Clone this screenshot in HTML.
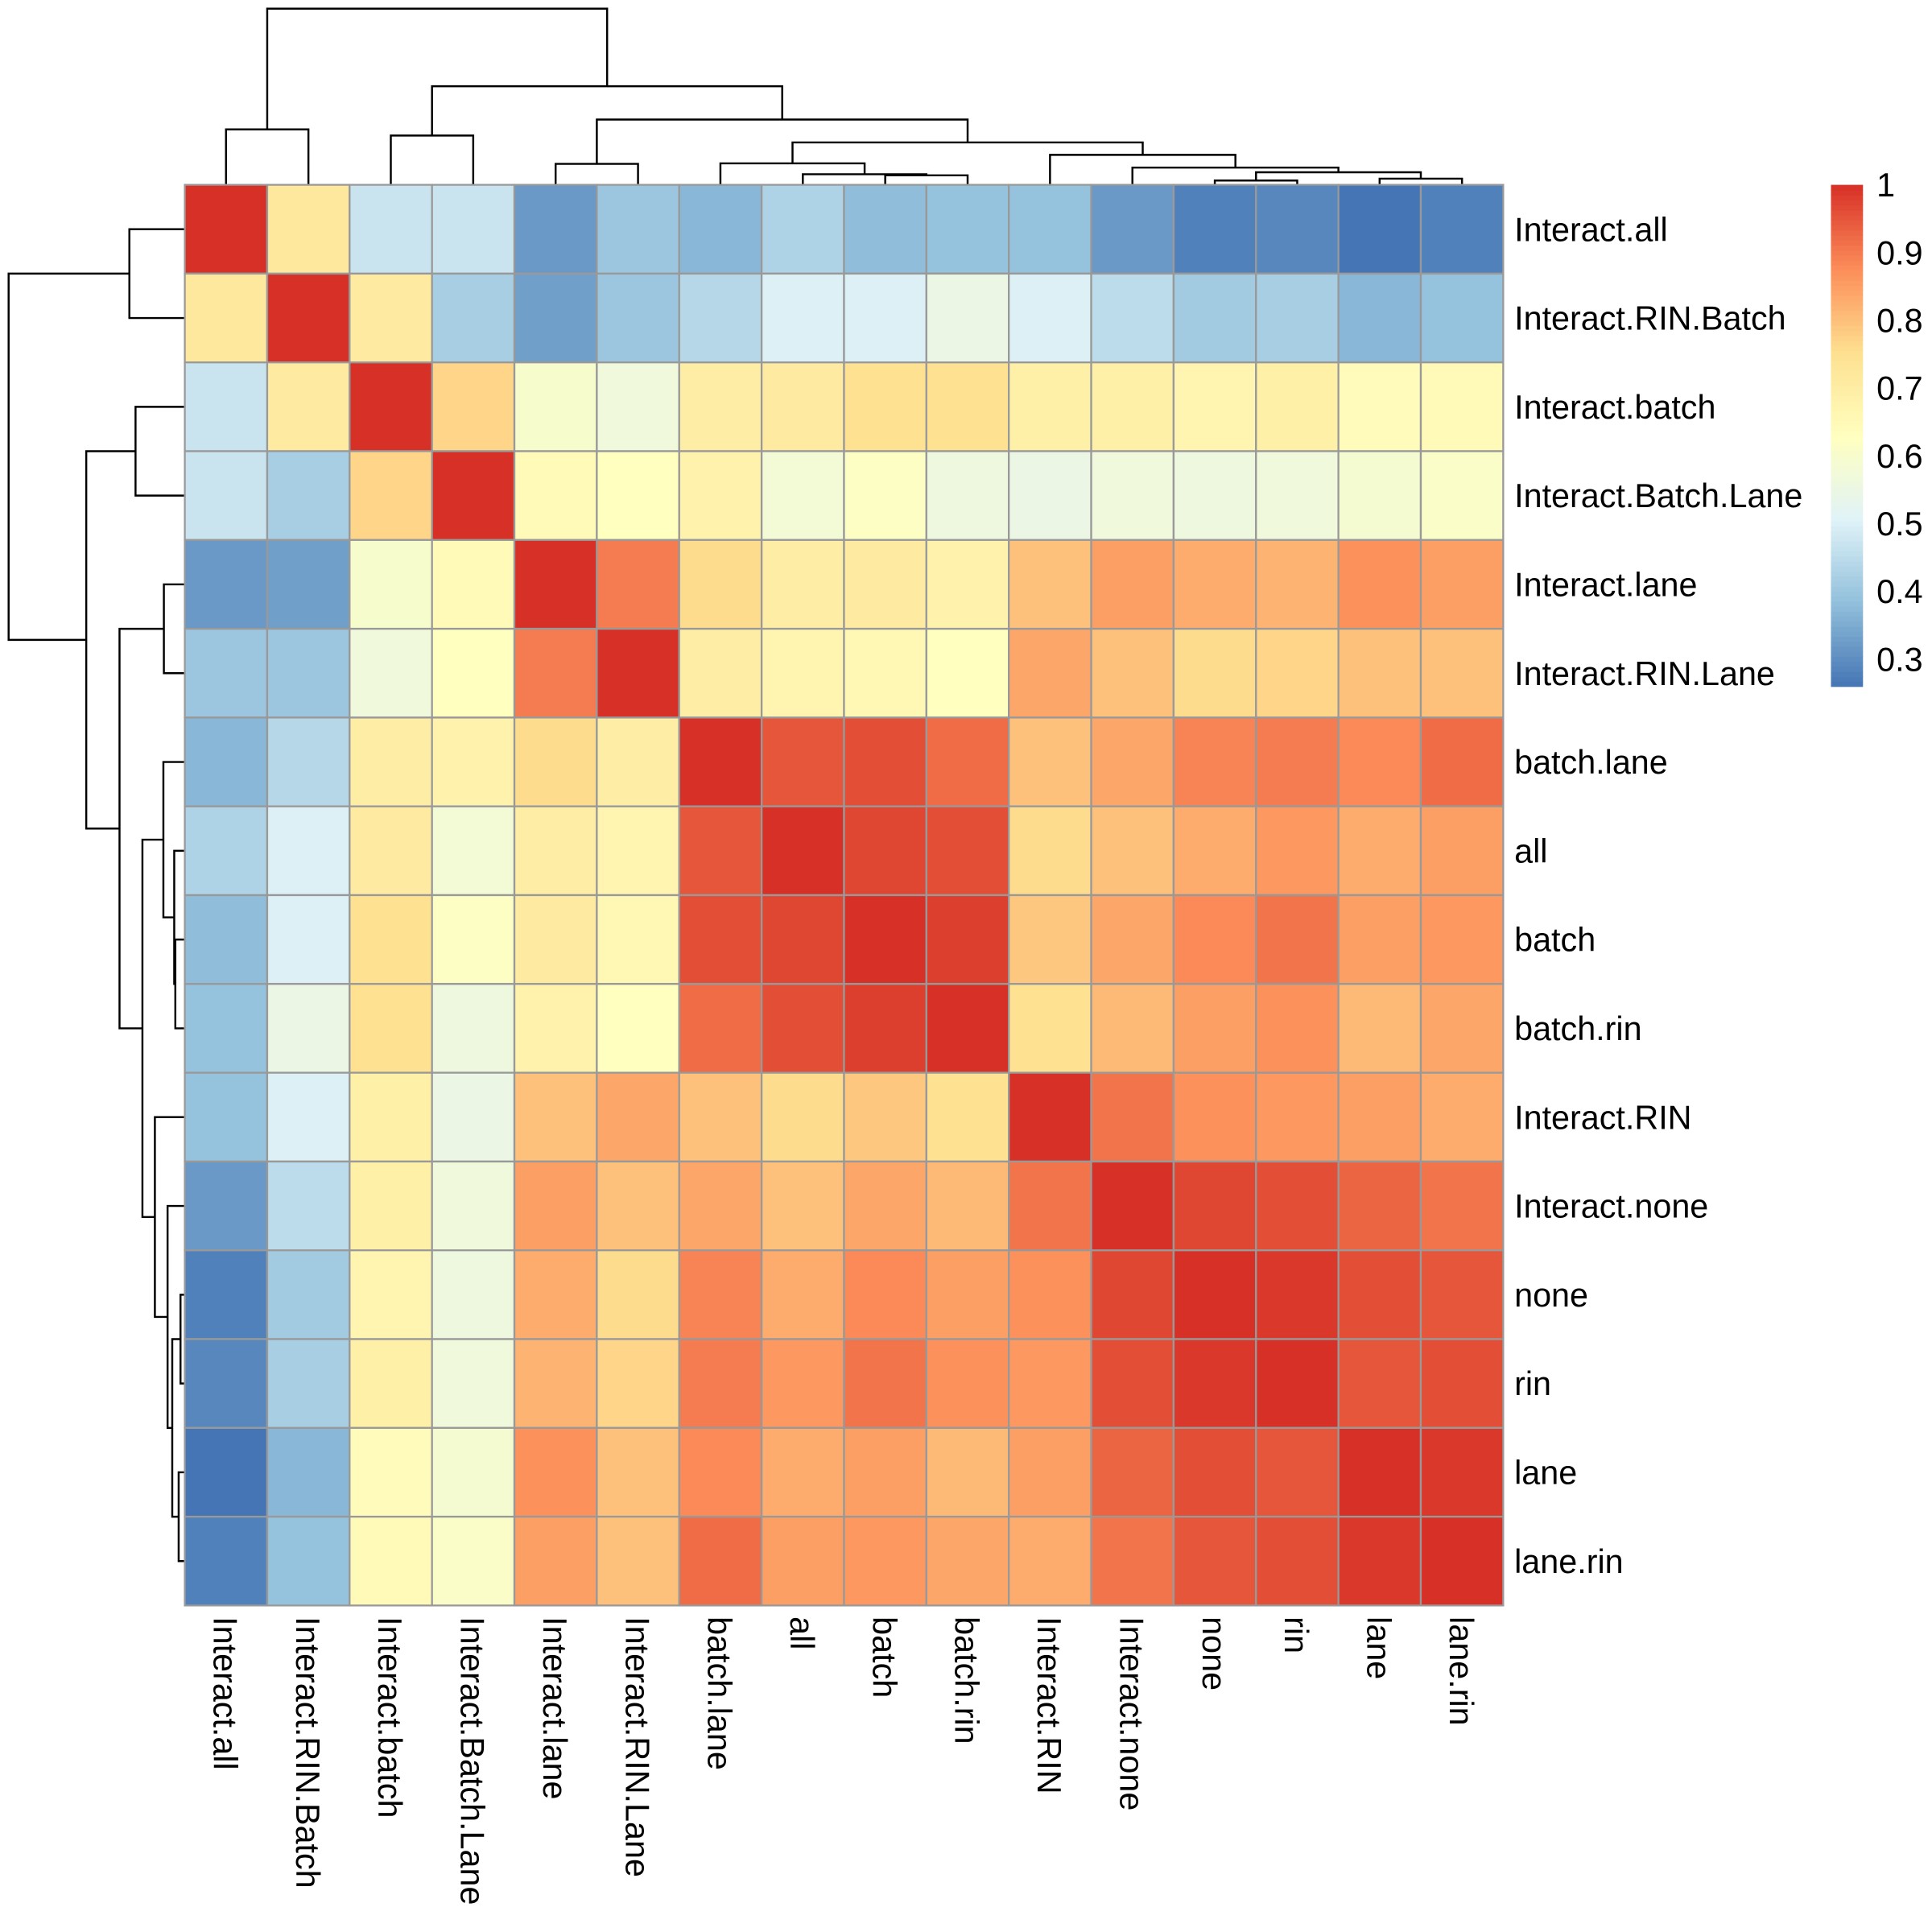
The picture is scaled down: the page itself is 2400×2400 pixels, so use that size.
<!DOCTYPE html>
<html><head><meta charset="utf-8"><style>
html,body{margin:0;padding:0;background:#fff;}
svg{display:block;}
text{font-family:"Liberation Sans",Arial,sans-serif;fill:#000;}
</style></head><body>
<svg id="chart" width="2400" height="2400" viewBox="0 0 1568 1568" xmlns="http://www.w3.org/2000/svg">
<g id="dendro-top"></g>
<g id="dendro-left"></g>
<g id="cells"></g>
<g id="rowlabels"></g>
<g id="collabels"></g>
<g id="legend"></g>
</svg>
<script>
const labels=["Interact.all","Interact.RIN.Batch","Interact.batch","Interact.Batch.Lane","Interact.lane","Interact.RIN.Lane","batch.lane","all","batch","batch.rin","Interact.RIN","Interact.none","none","rin","lane","lane.rin"];
const values=[
[1,0.72,0.47,0.47,0.32,0.4,0.37,0.43,0.38,0.39,0.39,0.32,0.28,0.29,0.26,0.28],
[0.72,1,0.71,0.42,0.33,0.4,0.44,0.5,0.5,0.55,0.5,0.45,0.41,0.42,0.37,0.39],
[0.47,0.71,1,0.77,0.6,0.57,0.7,0.71,0.75,0.75,0.69,0.69,0.67,0.69,0.64,0.65],
[0.47,0.42,0.77,1,0.65,0.63,0.68,0.58,0.62,0.56,0.55,0.57,0.56,0.57,0.59,0.61],
[0.32,0.33,0.6,0.65,1,0.9,0.76,0.7,0.71,0.68,0.8,0.85,0.83,0.82,0.87,0.85],
[0.4,0.4,0.57,0.63,0.9,1,0.7,0.67,0.66,0.63,0.84,0.8,0.76,0.77,0.8,0.8],
[0.37,0.44,0.7,0.68,0.76,0.7,1,0.95,0.96,0.92,0.8,0.84,0.89,0.9,0.88,0.92],
[0.43,0.5,0.71,0.58,0.7,0.67,0.95,1,0.97,0.96,0.76,0.8,0.83,0.86,0.83,0.85],
[0.38,0.5,0.75,0.62,0.71,0.66,0.96,0.97,1,0.98,0.79,0.84,0.88,0.91,0.85,0.86],
[0.39,0.55,0.75,0.56,0.68,0.63,0.92,0.96,0.98,1,0.75,0.81,0.85,0.87,0.81,0.84],
[0.39,0.5,0.69,0.55,0.8,0.84,0.8,0.76,0.79,0.75,1,0.91,0.87,0.86,0.85,0.83],
[0.32,0.45,0.69,0.57,0.85,0.8,0.84,0.8,0.84,0.81,0.91,1,0.97,0.96,0.93,0.91],
[0.28,0.41,0.67,0.56,0.83,0.76,0.89,0.83,0.88,0.85,0.87,0.97,1,0.99,0.96,0.95],
[0.29,0.42,0.69,0.57,0.82,0.77,0.9,0.86,0.91,0.87,0.86,0.96,0.99,1,0.95,0.96],
[0.26,0.37,0.64,0.59,0.87,0.8,0.88,0.83,0.85,0.81,0.85,0.93,0.96,0.95,1,0.99],
[0.28,0.39,0.65,0.61,0.85,0.8,0.92,0.85,0.86,0.84,0.83,0.91,0.95,0.96,0.99,1]];
const mergePairs=[[-13,-14],[-15,-16],[1,2],[-12,3],[-11,4],[-9,-10],[-8,6],[-7,7],[8,5],[-5,-6],[10,9],[-3,-4],[12,11],[-1,-2],[14,13]];
const mergeHeights=[3.5,5,10.2,14,24.3,7.7,8.6,17.4,34.4,17,53,40,80,45,143];
const legendTicks=[0.3,0.4,0.5,0.6,0.7,0.8,0.9,1];

const NS="http://www.w3.org/2000/svg";
function mk(tag,attrs,parent){const e=document.createElementNS(NS,tag);for(const k in attrs)e.setAttribute(k,attrs[k]);parent.appendChild(e);return e;}
const X0=150,Y0=150,X1=1220,Y1=1303,n=labels.length;
const cw=(X1-X0)/n, ch=(Y1-Y0)/n;
const colX=i=>X0+cw*i, rowY=i=>Y0+ch*i;
const pal=["#4575B4","#91BFDB","#E0F3F8","#FFFFBF","#FEE090","#FC8D59","#D73027"];
let vmin=Infinity,vmax=-Infinity;values.forEach(r=>r.forEach(v=>{vmin=Math.min(vmin,v);vmax=Math.max(vmax,v);}));
function hex(c){return [1,3,5].map(i=>parseInt(c.substr(i,2),16));}
function color(v){let t=(v-vmin)/(vmax-vmin);t=Math.max(0,Math.min(1,t));const p=t*(pal.length-1);const i=Math.min(pal.length-2,Math.floor(p));const f=p-i;const a=hex(pal[i]),b=hex(pal[i+1]);return "rgb("+a.map((x,k)=>Math.round(x+(b[k]-x)*f)).join(",")+")";}

const cells=document.getElementById('cells');
for(let r=0;r<n;r++)for(let c=0;c<n;c++){
  const e=mk('rect',{x:colX(c),y:rowY(r),width:cw,height:ch,fill:color(values[r][c]),stroke:"#999999","stroke-width":1.5},cells);
  
  
}
const FS=27;
const rl=document.getElementById('rowlabels');
labels.forEach((l,i)=>{const t=mk('text',{x:X1+9,y:rowY(i)+ch/2+9.5,'font-size':FS},rl);t.textContent=l;
  
  });
const cl=document.getElementById('collabels');
labels.forEach((l,i)=>{const cx=colX(i)+cw/2-10,cy=Y1+9;const t=mk('text',{x:cx,y:cy,'font-size':FS,transform:`rotate(90 ${cx} ${cy})`},cl);t.textContent=l;
  
  });

const maxH=Math.max(...mergeHeights);
const hs=h=>h*(143/maxH);
function dendro(g,orient){
  const pos=[],hgt=[];
  const leafPos=k=>(orient==='top'?colX(k)+cw/2:rowY(k)+ch/2);
  const get=id=>id<0?[leafPos(-id-1),0]:[pos[id-1],hgt[id-1]];
  mergePairs.forEach((m,j)=>{
    const [pa,ha]=get(m[0]),[pb,hb]=get(m[1]);const h=mergeHeights[j];
    pos.push((pa+pb)/2);hgt.push(h);
    let d;
    if(orient==='top'){const yb=Y0,ya=yb-hs(ha),yc=yb-hs(hb),yh=yb-hs(h);d=`M${pa},${ya}V${yh}H${pb}V${yc}`;}
    else{const xb=X0,xa=xb-hs(ha),xc=xb-hs(hb),xh=xb-hs(h);d=`M${xa},${pa}H${xh}V${pb}H${xc}`;}
    const p=mk('path',{d:d,fill:'none',stroke:'#000','stroke-width':1.6},g);
    
    
  });
}
dendro(document.getElementById('dendro-top'),'top');
dendro(document.getElementById('dendro-left'),'left');

const lg=document.getElementById('legend');
const LX=1486,LW=26,LT=150,LB=557;
const ly=v=>LB-(v-vmin)/(vmax-vmin)*(LB-LT);
const steps=100;
for(let s=0;s<steps;s++){const v0=vmin+(vmax-vmin)*s/steps,v1=vmin+(vmax-vmin)*(s+1)/steps;
  const e=mk('rect',{x:LX,y:ly(v1),width:LW,height:ly(v0)-ly(v1)+0.5,fill:color((v0+v1)/2)},lg);
  
  }
legendTicks.forEach(v=>{const t=mk('text',{x:1523,y:ly(v)+9.5,'font-size':FS},lg);t.textContent=String(v);
  
  });
</script>
</body></html>
